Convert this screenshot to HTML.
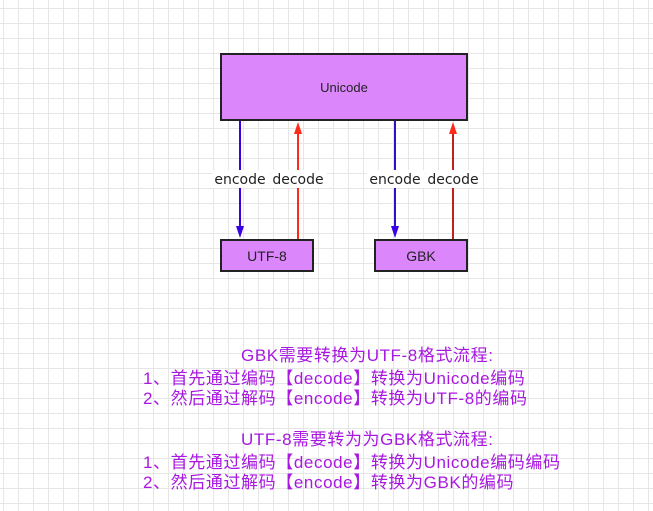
<!DOCTYPE html>
<html><head><meta charset="utf-8"><style>
html,body{margin:0;padding:0}
body{width:653px;height:511px;position:relative;overflow:hidden;background:#fff;
background-image:linear-gradient(to right,#e6e6e6 1px,transparent 1px),linear-gradient(to bottom,#e6e6e6 1px,transparent 1px);
background-size:15px 15px;background-position:3px 8px;font-family:"Liberation Sans","Noto Sans CJK SC",sans-serif}
.box{position:absolute;background:#dc86fc;border:2px solid #222;box-sizing:border-box;display:flex;align-items:center;justify-content:center;font-size:13px;color:#222}
.t{position:absolute;font-size:17px;letter-spacing:0.6px;color:#a818e0;white-space:nowrap;line-height:20px}
</style></head><body>
<svg width="653" height="511" style="position:absolute;left:0;top:0">
<line x1="240" y1="120" x2="240" y2="228" stroke="#3a00e6" stroke-width="2"/>
<path d="M236,226 L244,226 L240,238 z" fill="#3a00e6"/>
<line x1="298" y1="239" x2="298" y2="132" stroke="#ff2a1a" stroke-width="2"/>
<path d="M294,134 L302,134 L298,122 z" fill="#ff2a1a"/>
<line x1="395" y1="120" x2="395" y2="228" stroke="#3010c8" stroke-width="2"/>
<path d="M391,226 L399,226 L395,238 z" fill="#3a00e6"/>
<line x1="453" y1="239" x2="453" y2="132" stroke="#c02020" stroke-width="2"/>
<path d="M449,134 L457,134 L453,122 z" fill="#ff2a1a"/>
<rect x="212" y="170" width="58" height="18" fill="#fff"/>
<rect x="271" y="170" width="56" height="18" fill="#fff"/>
<rect x="367" y="170" width="58" height="18" fill="#fff"/>
<rect x="426" y="170" width="56" height="18" fill="#fff"/>
<g font-family="DejaVu Sans, sans-serif" font-size="14" fill="#222" text-anchor="middle">
<text x="240" y="184">encode</text><text x="298" y="184">decode</text>
<text x="395" y="184">encode</text><text x="453" y="184">decode</text>
</g>
</svg>
<div class="box" style="left:220px;top:53px;width:248px;height:68px">Unicode</div>
<div class="box" style="left:220px;top:239px;width:94px;height:33px;font-size:14px">UTF-8</div>
<div class="box" style="left:374px;top:239px;width:94px;height:33px;font-size:14px">GBK</div>
<div class="t" style="left:241px;top:346px">GBK需要转换为UTF-8格式流程:</div>
<div class="t" style="left:143px;top:369px">1、首先通过编码【decode】转换为Unicode编码</div>
<div class="t" style="left:143px;top:389px">2、然后通过解码【encode】转换为UTF-8的编码</div>
<div class="t" style="left:241px;top:430px">UTF-8需要转为为GBK格式流程:</div>
<div class="t" style="left:143px;top:453px">1、首先通过编码【decode】转换为Unicode编码编码</div>
<div class="t" style="left:143px;top:473px">2、然后通过解码【encode】转换为GBK的编码</div>
</body></html>
